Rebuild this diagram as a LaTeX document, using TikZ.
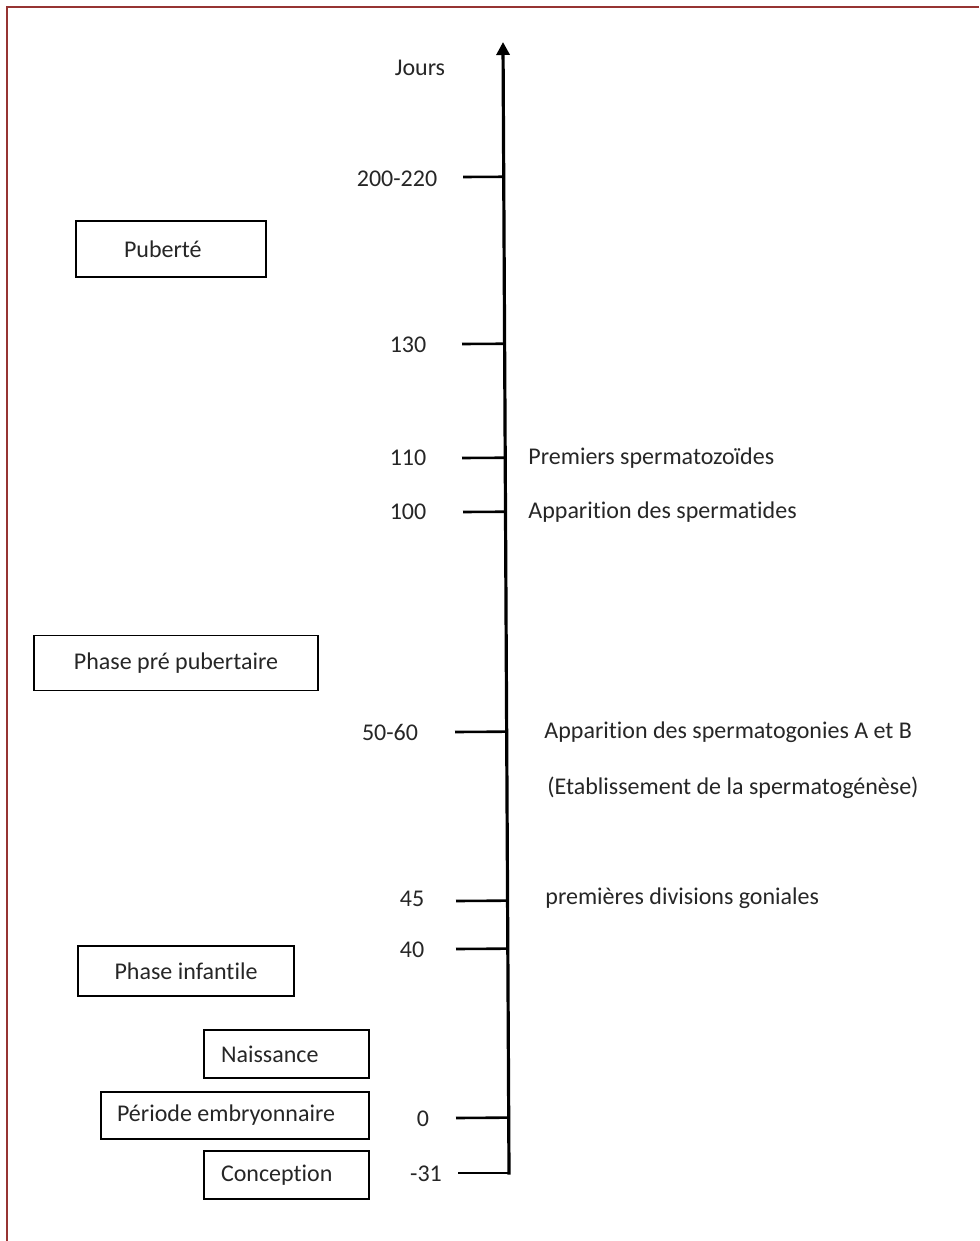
\documentclass[tikz,border=0pt]{standalone}
\usepackage{fontspec}
\setmainfont{Carlito}[Ligatures={NoCommon,NoRequired,NoContextual}]
\usepackage{tikz}
\usetikzlibrary{positioning,calc,arrows.meta}
\definecolor{bordeaux}{RGB}{150,52,50}
\definecolor{encre}{RGB}{38,38,38}

\begin{document}
\begin{tikzpicture}[x=0.5pt,y=-0.5pt,
			font=\fontsize{12}{14}\selectfont,
			phasenode/.style={rectangle, draw=black, line width=0.8pt, text=encre, inner ysep=0pt},
			daynode/.style={text=encre, inner sep=0pt},
			eventnode/.style={text=encre, inner sep=0pt, anchor=west},
			ticknode/.style={line width=1.3pt},
			]
			\useasboundingbox (0,0) rectangle (979,1241);
			%Cadre
			\draw[bordeaux, line width=1pt] (7,1241) -- (7,7) -- (979,7);

			%Axe
			\coordinate (haut) at (503,42);
			\coordinate (bas)  at (509,1173);
			\draw[line width=1.6pt, line cap=rect, -{Triangle[width=6.5pt,length=6.5pt]}] (bas) -- (haut);
			\node[daynode] (jours) at (420,68) {Jours};

			%Graduations
			\coordinate (t200) at (463,177);
			\coordinate (t130) at (462,344);
			\coordinate (t110) at (462,458);
			\coordinate (t100) at (463,512);
			\coordinate (t50)  at (455,732);
			\coordinate (t45)  at (456,901);
			\coordinate (t40)  at (456,949);
			\coordinate (t0)   at (456,1118);
			\coordinate (t31)  at (458,1173);

			\draw[ticknode] (t200) -- ($(haut)!(t200)!(bas)$);
			\draw[ticknode] (t130) -- ($(haut)!(t130)!(bas)$);
			\draw[ticknode] (t110) -- ($(haut)!(t110)!(bas)$);
			\draw[ticknode] (t100) -- ($(haut)!(t100)!(bas)$);
			\draw[ticknode] (t50)  -- ($(haut)!(t50)!(bas)$);
			\draw[ticknode] (t45)  -- ($(haut)!(t45)!(bas)$);
			\draw[ticknode] (t40)  -- ($(haut)!(t40)!(bas)$);
			\draw[ticknode] (t0)   -- ($(haut)!(t0)!(bas)$);
			\draw[ticknode] (t31)  -- (bas);

			%Jours
			\node[daynode] (j200) at (397,179)  {200-220};
			\node[daynode] (j130) at (408,345)  {130};
			\node[daynode] (j110) at (408,458)  {110};
			\node[daynode] (j100) at (408,512)  {100};
			\node[daynode] (j50)  at (390,732)  {50-60};
			\node[daynode] (j45)  at (412,899)  {45};
			\node[daynode] (j40)  at (412,950)  {40};
			\node[daynode] (j0)   at (423,1119) {0};
			\node[daynode] (j31)  at (426,1174) {-31};

			%Evenements
			\node[eventnode] (spz)   at (528,458) {Premiers spermatozoïdes};
			\node[eventnode] (spt)   at (528,512) {Apparition des spermatides};
			\node[eventnode] (spg)   at (544,732) {Apparition des spermatogonies A et B};
			\node[eventnode] (etab)  at (547,788) {(Etablissement de la spermatogénèse)};
			\node[eventnode] (div)   at (545,898) {premières divisions goniales};

			%Phases
			\node[phasenode, align=flush left, inner xsep=24pt, text width=47pt, minimum height=28pt] (pub) at (171,249) {Puberté};
			\node[phasenode, minimum width=142pt, minimum height=27.5pt] (prepub) at (176,663) {Phase pré pubertaire};
			\node[phasenode, minimum width=108pt, minimum height=25pt] (inf) at (186,971) {Phase infantile};
			\node[phasenode, align=flush left, inner xsep=8.5pt, text width=65.5pt, minimum height=24pt] (nais) at (286.5,1054) {Naissance};
			\node[phasenode, align=flush left, inner xsep=8pt, text width=118pt, minimum height=23.5pt] (embr) at (235,1115.5) {Période embryonnaire};
			\node[phasenode, align=flush left, inner xsep=8.5pt, text width=65.5pt, minimum height=24pt] (conc) at (286.5,1175) {Conception};
		\end{tikzpicture}
\end{document}
